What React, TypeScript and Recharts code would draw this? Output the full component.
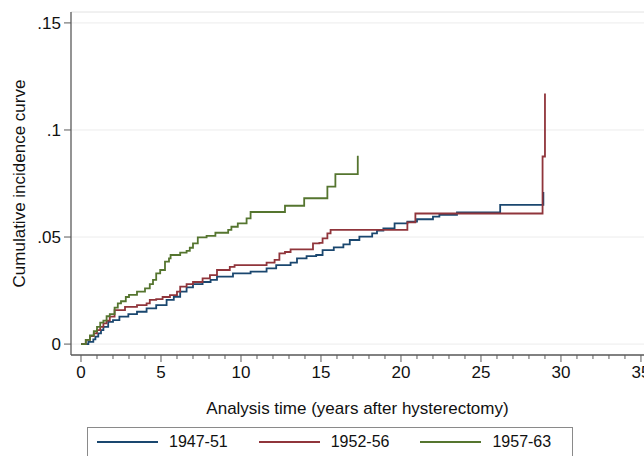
import React from 'react';
import { LineChart, Line, XAxis, YAxis, CartesianGrid, Legend, ReferenceLine } from 'recharts';

const cohorts = ['1947-51', '1952-56', '1957-63'];
const cohortColors = ['#1a476f', '#90353b', '#55752f'];

// step times (years) and cumulative incidence after each step
const time4751 = [0, 0.46, 0.77, 0.9, 1.08, 1.25, 1.4, 1.7, 2.0, 2.4, 2.96, 3.5, 4.1, 4.7, 5.35, 5.8, 6.2, 6.6, 7.0, 7.6, 8.1, 8.5, 9.5, 10.6, 11.6, 12.2, 13.1, 13.5, 14.1, 14.7, 15.1, 15.8, 16.4, 16.8, 17.4, 18.2, 18.5, 18.9, 19.6, 20.4, 21.0, 22.0, 22.4, 23.5, 26.2, 28.9];
const cif4751 = [0, 0.001, 0.0022, 0.0035, 0.005, 0.0065, 0.008, 0.0104, 0.0112, 0.0128, 0.014, 0.0151, 0.0167, 0.0182, 0.0206, 0.0221, 0.0245, 0.0265, 0.028, 0.029, 0.03, 0.0315, 0.033, 0.0338, 0.0354, 0.0369, 0.038, 0.04, 0.0411, 0.0416, 0.0439, 0.0452, 0.0466, 0.0486, 0.0502, 0.0517, 0.053, 0.054, 0.0564, 0.0572, 0.0583, 0.0595, 0.0603, 0.0615, 0.065, 0.071];

const time5256 = [0, 0.3, 0.56, 0.8, 1.0, 1.2, 1.4, 1.6, 1.8, 2.1, 2.75, 3.5, 4.1, 4.3, 4.7, 5.1, 5.56, 6.0, 6.2, 6.6, 7.0, 7.6, 8.06, 8.5, 9.3, 9.6, 11.6, 12.1, 12.4, 12.75, 13.1, 14.5, 14.9, 15.1, 15.4, 15.6, 20.4, 20.9, 28.85, 29.0];
const cif5256 = [0, 0.002, 0.0037, 0.005, 0.0065, 0.008, 0.0097, 0.011, 0.0128, 0.0159, 0.0174, 0.0182, 0.019, 0.0206, 0.021, 0.022, 0.0229, 0.0245, 0.0268, 0.028, 0.029, 0.0307, 0.0322, 0.0346, 0.0361, 0.0369, 0.038, 0.0393, 0.0424, 0.043, 0.0442, 0.047, 0.0473, 0.0494, 0.0517, 0.0533, 0.0568, 0.061, 0.0876, 0.117];

const time5763 = [0, 0.3, 0.56, 0.8, 1.0, 1.2, 1.4, 1.6, 1.8, 2.1, 2.3, 2.5, 2.8, 3.0, 3.5, 4.0, 4.3, 4.5, 4.7, 4.95, 5.25, 5.5, 5.6, 6.2, 6.6, 6.8, 7.0, 7.3, 7.85, 8.4, 9.2, 9.4, 9.8, 10.35, 10.6, 12.75, 13.95, 15.4, 15.9, 17.3];
const cif5763 = [0, 0.002, 0.004, 0.006, 0.008, 0.01, 0.011, 0.013, 0.014, 0.017, 0.019, 0.02, 0.022, 0.023, 0.0245, 0.026, 0.028, 0.03, 0.033, 0.0346, 0.0385, 0.04, 0.0416, 0.0427, 0.0435, 0.045, 0.047, 0.0498, 0.0505, 0.052, 0.0533, 0.0548, 0.0564, 0.0587, 0.0617, 0.0646, 0.0681, 0.0735, 0.0794, 0.088];

const yTicks = [0, 0.05, 0.1, 0.15];
const yTickLabels = ['0', '.05', '.1', '.15'];
const xTicks = [0, 1, 2, 3, 4, 5, 6, 7, 8, 9, 10, 11, 12, 13, 14, 15, 16, 17, 18, 19, 20, 21, 22, 23, 24, 25, 26, 27, 28, 29, 30, 31, 32, 33, 34, 35];
const xMajorTicks = [0, 5, 10, 15, 20, 25, 30, 35];

const FONT = '"Liberation Sans", Arial, sans-serif';
const AXIS = '#5a5a5a';

const toRows = (t: number[], v: number[]) => t.map((x, i) => ({ t: x, v: v[i] }));
const seriesData = [toRows(time4751, cif4751), toRows(time5256, cif5256), toRows(time5763, cif5763)];

const XTick = (props: any) => {
  const { x, y, payload } = props;
  const major = xMajorTicks.includes(payload.value);
  return (
    <g>
      <line x1={x} x2={x} y1={y} y2={y + (major ? 7 : 4)} stroke={AXIS} strokeWidth={1} />
      {major && (
        <text x={x} y={y + 23} textAnchor="middle" fontSize={17} fill="#111" fontFamily={FONT}>
          {payload.value}
        </text>
      )}
    </g>
  );
};

const YTitle = (props: any) => {
  const vb = props.viewBox;
  const cx = vb.x + 19;
  const cy = vb.y + vb.height / 2;
  return (
    <text x={cx} y={cy} transform={`rotate(-90, ${cx}, ${cy})`} textAnchor="middle" dominantBaseline="central"
      fontSize={17} fill="#111" fontFamily={FONT}>
      Cumulative incidence curve
    </text>
  );
};

const XTitle = (props: any) => {
  const vb = props.viewBox;
  return (
    <text x={vb.x + vb.width / 2} y={vb.y + 59} textAnchor="middle" fontSize={17} fill="#111" fontFamily={FONT}>
      Analysis time (years after hysterectomy)
    </text>
  );
};

const LegendBox = () => (
  <div style={{ border: '1px solid #8a8a8a', background: '#fff', height: 40, boxSizing: 'border-box',
    display: 'flex', alignItems: 'center', paddingLeft: 9, paddingBottom: 10, fontFamily: FONT, fontSize: 16,
    color: '#111', whiteSpace: 'nowrap' }}>
    {cohorts.map((c, i) => (
      <div key={c} style={{ display: 'flex', alignItems: 'center', marginRight: 31, flexShrink: 0 }}>
        <span style={{ display: 'inline-block', width: 61, flexShrink: 0, borderTop: `2px solid ${cohortColors[i]}` }} />
        <span style={{ marginLeft: 11, flexShrink: 0 }}>{c}</span>
      </div>
    ))}
  </div>
);

export default function App() {
  return (
    <div style={{ position: 'absolute', left: 0, top: 0, width: 644, height: 456, background: '#fff', overflow: 'hidden' }}>
      <LineChart width={644} height={456} margin={{ top: 12, right: 0, left: 0, bottom: 0 }}>
        <CartesianGrid vertical={false} stroke="#ececec" />
        <ReferenceLine y={0.1551} stroke="#ececec" />
        <XAxis
          dataKey="t"
          type="number"
          domain={[-0.625, 35.19]}
          allowDataOverflow
          ticks={xTicks}
          interval={0}
          tickSize={0}
          tickMargin={0}
          tick={<XTick />}
          height={101}
          axisLine={{ stroke: AXIS, strokeWidth: 1.3 }}
          label={<XTitle />}
        />
        <YAxis
          type="number"
          domain={[-0.0051, 0.1551]}
          allowDataOverflow
          ticks={yTicks}
          interval={0}
          tickFormatter={(v: number) => yTickLabels[yTicks.indexOf(v)]}
          width={71}
          tickSize={7}
          tickMargin={3}
          tick={{ fontSize: 17, fill: '#111', fontFamily: FONT }}
          tickLine={{ stroke: AXIS }}
          axisLine={{ stroke: AXIS, strokeWidth: 1.3 }}
          label={<YTitle />}
        />
        {seriesData.map((rows, i) => (
          <Line
            key={cohorts[i]}
            data={rows}
            dataKey="v"
            name={cohorts[i]}
            type="stepAfter"
            stroke={cohortColors[i]}
            strokeWidth={1.8}
            dot={false}
            activeDot={false}
            isAnimationActive={false}
          />
        ))}
        <Legend
          layout="horizontal"
          verticalAlign="middle"
          align="center"
          wrapperStyle={{ top: 427, left: 87, width: 486, height: 40 }}
          content={<LegendBox />}
        />
      </LineChart>
    </div>
  );
}
